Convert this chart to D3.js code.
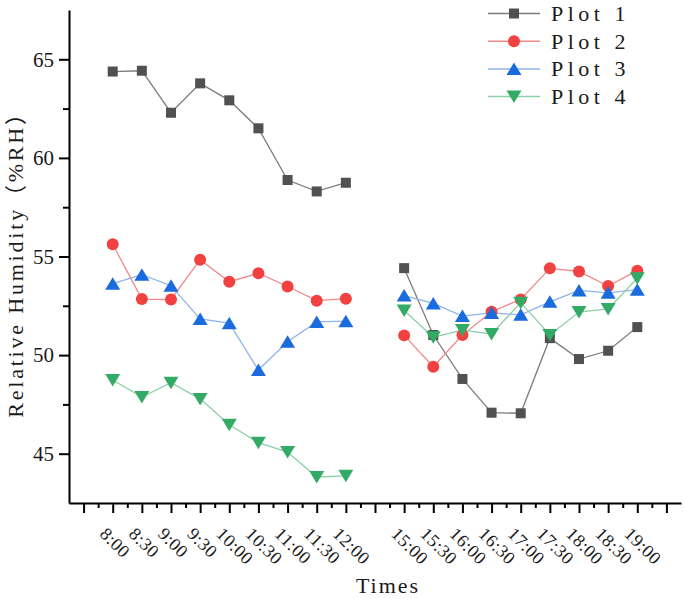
<!DOCTYPE html>
<html>
<head>
<meta charset="utf-8">
<script src="https://cdn.jsdelivr.net/npm/d3@7"></script>
<style>
  html, body { margin: 0; padding: 0; background: #fff; }
  svg { display: block; }
  text { font-family: "Liberation Serif", "Noto Sans CJK SC", serif; fill: #1a1a1a; font-weight: normal; }
</style>
</head>
<body>
<svg id="chart" width="685" height="599"></svg>
<script>
// ---------- data ----------
const tickLabels = ["", "8:00", "8:30", "9:00", "9:30", "10:00", "10:30", "11:00", "11:30", "12:00", "",
                    "15:00", "15:30", "16:00", "16:30", "17:00", "17:30", "18:00", "18:30", "19:00", ""];
const plot1 = [null, 64.38, 64.42, 62.29, 63.78, 62.92, 61.5, 58.88, 58.3, 58.74, null,
               54.41, 51.02, 48.79, 47.08, 47.05, 50.86, 49.8, 50.22, 51.42, null];
const plot2 = [null, 55.62, 52.84, 52.82, 54.84, 53.72, 54.15, 53.48, 52.76, 52.86, null,
               51.0, 49.41, 51.02, 52.2, 52.82, 54.4, 54.24, 53.5, 54.28, null];
const plot3 = [null, 53.62, 54.08, 53.52, 51.83, 51.62, 49.24, 50.68, 51.68, 51.72, null,
               53.02, 52.62, 51.98, 52.14, 52.04, 52.7, 53.28, 53.16, 53.32, null];
const plot4 = [null, 48.74, 47.87, 48.6, 47.78, 46.47, 45.56, 45.08, 43.82, 43.88, null,
               52.26, 50.9, 51.27, 51.07, 52.66, 51.02, 52.18, 52.34, 53.9, null];
const seriesNames = ["Plot 1", "Plot 2", "Plot 3", "Plot 4"];
const yMajorTicks = [45, 50, 55, 60, 65];
const yMinorTicks = [47.5, 52.5, 57.5, 62.5];
const yTitle = "Relative Humidity（%RH）";
const xTitle = "Times";

// ---------- styles ----------
const markerColors = ["#515151", "#F14141", "#1A6BDD", "#33AA66"];
const lineColors = ["#7d7d7d", "#f08a8a", "#8fb4ea", "#8ccfa8"];
const markerTypes = ["square", "circle", "triUp", "triDown"];

const svg = d3.select("#chart");
const x = d3.scaleLinear().domain([-0.5, 20.5]).range([69, 681]);
const y = d3.scaleLinear().domain([42.5, 67.5]).range([503, 10]);

// ---------- axes ----------
const xAxis = d3.axisBottom(x)
  .tickValues(d3.range(0, tickLabels.length))
  .tickFormat(() => "")
  .tickSize(10).tickSizeOuter(0);
const gx = svg.append("g").attr("transform", `translate(0,${y.range()[0]})`).call(xAxis);
gx.select(".domain").attr("stroke", "#000").attr("stroke-width", 2);
gx.selectAll(".tick line").attr("stroke", "#000").attr("stroke-width", 2);

const xMinor = d3.axisBottom(x)
  .tickValues(d3.range(0.5, tickLabels.length - 1, 1))
  .tickFormat(() => "").tickSize(5).tickSizeOuter(0);
const gxm = svg.append("g").attr("transform", `translate(0,${y.range()[0]})`).call(xMinor);
gxm.select(".domain").remove();
gxm.selectAll(".tick line").attr("stroke", "#000").attr("stroke-width", 2);

// rotated x tick labels
svg.append("g").selectAll("text")
  .data(tickLabels.map((t, i) => ({t, i})).filter(d => d.t !== ""))
  .join("text")
  .attr("transform", d => `translate(${x(d.i) - 14},535) rotate(45)`)
  .attr("font-size", 18)
  .attr("letter-spacing", 0.5)
  .text(d => d.t);

const yAxis = d3.axisLeft(y).tickValues(yMajorTicks).tickSize(10).tickSizeOuter(0).tickPadding(5);
const gy = svg.append("g").attr("transform", `translate(${x.range()[0]},0)`).call(yAxis);
gy.select(".domain").attr("stroke", "#000").attr("stroke-width", 2);
gy.selectAll(".tick line").attr("stroke", "#000").attr("stroke-width", 2);
gy.selectAll(".tick text")
  .attr("font-family", "\"Liberation Serif\", serif")
  .attr("font-size", 21).attr("fill", "#1a1a1a");

const yMinor = d3.axisLeft(y).tickValues(yMinorTicks).tickSize(6).tickFormat(() => "").tickSizeOuter(0);
const gym = svg.append("g").attr("transform", `translate(${x.range()[0]},0)`).call(yMinor);
gym.select(".domain").remove();
gym.selectAll(".tick line").attr("stroke", "#000").attr("stroke-width", 2);

// axis titles
svg.append("text")
  .attr("transform", "translate(23,259) rotate(-90)")
  .attr("text-anchor", "middle")
  .attr("font-size", 22)
  .attr("letter-spacing", 2.8)
  .text(yTitle);
svg.append("text")
  .attr("x", 388).attr("y", 593)
  .attr("text-anchor", "middle")
  .attr("font-size", 22)
  .attr("letter-spacing", 2)
  .text(xTitle);

// ---------- markers ----------
function drawMarker(g, type, cx, cy, color) {
  if (type === "square") {
    g.append("rect").attr("x", cx - 5).attr("y", cy - 5).attr("width", 10).attr("height", 10)
      .attr("fill", color);
  } else if (type === "circle") {
    g.append("circle").attr("cx", cx).attr("cy", cy).attr("r", 6).attr("fill", color);
  } else if (type === "triUp") {
    g.append("path").attr("d", `M${cx},${cy - 6.5}L${cx + 7.5},${cy + 6}L${cx - 7.5},${cy + 6}Z`)
      .attr("fill", color);
  } else {
    g.append("path").attr("d", `M${cx - 7.5},${cy - 6}L${cx + 7.5},${cy - 6}L${cx},${cy + 6.5}Z`)
      .attr("fill", color);
  }
}

const allSeries = [plot1, plot2, plot3, plot4];
const line = d3.line().defined(d => d.v !== null).x(d => x(d.i)).y(d => y(d.v));

const plotG = svg.append("g");
allSeries.forEach((s, k) => {
  const pts = s.map((v, i) => ({v, i}));
  plotG.append("path").datum(pts)
    .attr("d", line)
    .attr("fill", "none")
    .attr("stroke", lineColors[k])
    .attr("stroke-width", 1.3);
});
allSeries.forEach((s, k) => {
  const g = plotG.append("g");
  s.forEach((v, i) => {
    if (v !== null) drawMarker(g, markerTypes[k], x(i), y(v), markerColors[k]);
  });
});

// ---------- legend ----------
const legend = svg.append("g");
seriesNames.forEach((name, k) => {
  const ry = 13.5 + k * 27.7;
  legend.append("line").attr("x1", 488).attr("x2", 540).attr("y1", ry).attr("y2", ry)
    .attr("stroke", lineColors[k]).attr("stroke-width", 1.5);
  drawMarker(legend, markerTypes[k], 514, ry, markerColors[k]);
  legend.append("text").attr("x", 551).attr("y", ry + 7.5).attr("font-size", 22)
    .attr("letter-spacing", 4.5).text(name);
});
</script>
</body>
</html>
